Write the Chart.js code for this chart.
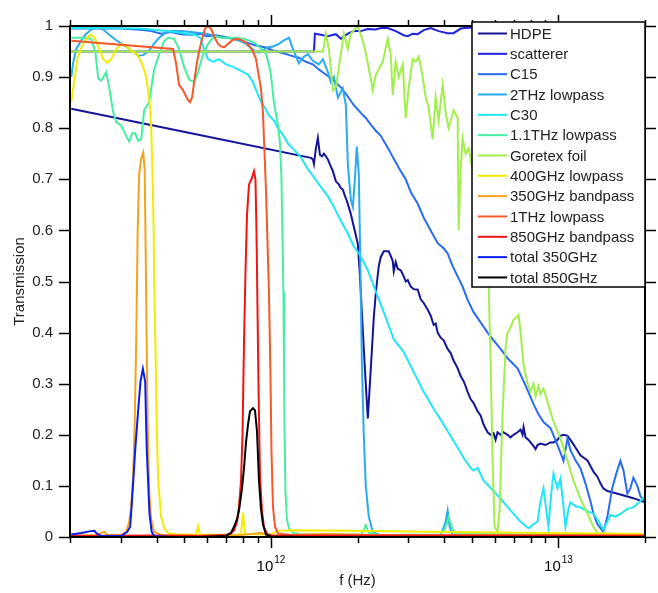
<!DOCTYPE html>
<html>
<head>
<meta charset="utf-8">
<script src="https://cdn.jsdelivr.net/npm/chart.js@4.4.1/dist/chart.umd.min.js"></script>
<style>
  html, body { margin: 0; padding: 0; background: #fff; }
  #wrap { width: 658px; height: 593px; }
</style>
</head>
<body>
<div id="wrap"><canvas id="c" width="658" height="593"></canvas></div>
<script>
// ---------------- DATA (frequency in THz, transmission 0..1) ----------------
const seriesNames = ['HDPE', 'scatterer', 'C15', '2THz lowpass', 'C30', '1.1THz lowpass',
  'Goretex foil', '400GHz lowpass', '350GHz bandpass', '1THz lowpass', '850GHz bandpass',
  'total 350GHz', 'total 850GHz'];

const hdpeF = [0.202, 0.5275, 1.377, 1.399, 1.411, 1.433, 1.456, 1.480, 1.504, 1.528, 1.552, 1.577, 1.616, 1.642, 1.682, 1.722, 1.750, 1.778, 1.807, 1.836, 1.866, 1.896, 1.942, 2.005, 2.037, 2.054, 2.103, 2.137, 2.172, 2.225, 2.279, 2.316, 2.371, 2.410, 2.468, 2.568, 2.610, 2.652, 2.674, 2.716, 2.761, 2.828, 2.896, 2.943, 2.991, 3.064, 3.138, 3.240, 3.318, 3.399, 3.509, 3.594, 3.681, 3.740, 3.801, 3.893, 3.987, 4.117, 4.217, 4.319, 4.389, 4.460, 4.569, 4.680, 4.755, 4.831, 4.948, 5.068, 5.233, 5.360, 5.490, 5.668, 5.806, 5.947, 6.043, 6.140, 6.289, 6.442, 6.651, 6.813, 6.979, 7.205, 7.383, 7.500, 7.562, 7.684, 7.870, 7.997, 8.190, 8.322, 8.456, 8.660, 9.013, 9.380, 9.607, 9.920, 10.16, 10.41, 10.75, 11.01, 11.46, 11.92, 12.61, 13.23, 13.66, 14.00, 14.33, 14.80, 16.42, 18.22, 20.0];
const hdpeT = [0.838, 0.790, 0.742, 0.739, 0.730, 0.760, 0.781, 0.748, 0.745, 0.750, 0.745, 0.739, 0.725, 0.716, 0.696, 0.690, 0.683, 0.680, 0.668, 0.658, 0.645, 0.632, 0.607, 0.574, 0.516, 0.478, 0.370, 0.300, 0.232, 0.330, 0.430, 0.478, 0.530, 0.548, 0.559, 0.559, 0.550, 0.540, 0.520, 0.538, 0.525, 0.522, 0.510, 0.500, 0.503, 0.490, 0.485, 0.484, 0.465, 0.458, 0.445, 0.433, 0.415, 0.418, 0.400, 0.390, 0.385, 0.368, 0.360, 0.345, 0.338, 0.330, 0.315, 0.305, 0.295, 0.284, 0.270, 0.262, 0.246, 0.238, 0.220, 0.205, 0.200, 0.203, 0.190, 0.205, 0.200, 0.205, 0.200, 0.195, 0.200, 0.205, 0.210, 0.200, 0.215, 0.195, 0.190, 0.185, 0.178, 0.172, 0.180, 0.183, 0.180, 0.185, 0.185, 0.190, 0.198, 0.200, 0.198, 0.190, 0.175, 0.160, 0.150, 0.128, 0.118, 0.105, 0.095, 0.090, 0.083, 0.076, 0.068];

const scattererF = [0.202, 1.411, 1.422, 1.491, 1.577, 1.682, 1.750, 1.851, 1.942, 2.054, 2.172, 2.316, 2.410, 2.548, 2.716, 2.896, 2.991, 3.113, 3.240, 3.399, 3.594, 3.831, 4.117, 4.319, 4.569, 4.948, 6.289, 9.380, 14.00, 20.0];
const scattererT = [0.950, 0.950, 0.985, 0.983, 0.980, 0.984, 0.975, 0.985, 0.990, 0.990, 0.994, 0.993, 0.996, 0.996, 0.990, 0.982, 0.980, 0.985, 0.984, 0.992, 0.996, 0.990, 0.986, 0.986, 0.995, 0.997, 0.990, 0.993, 0.990, 0.995];

const c15F = [0.202, 0.301, 0.3594, 0.383, 0.415, 0.449, 0.487, 0.5275, 0.5714, 0.5947, 0.6442, 0.6978, 0.756, 0.8189, 0.8869, 0.9608, 1.016, 1.083, 1.173, 1.251, 1.323, 1.399, 1.468, 1.552, 1.642, 1.750, 1.851, 1.942, 2.054, 2.137, 2.225, 2.316, 2.410, 2.548, 2.674, 2.828, 2.943, 3.064, 3.240, 3.399, 3.594, 3.801, 3.987, 4.117, 4.285, 4.460, 4.642, 4.831, 5.068, 5.360, 5.668, 5.947, 6.289, 6.651, 6.923, 7.205, 7.562, 7.870, 8.190, 8.524, 8.870, 9.380, 9.763, 10.16, 10.41, 10.58, 10.75, 11.01, 11.46, 11.92, 12.41, 12.92, 13.23, 13.66, 14.33, 14.80, 15.40, 15.91, 16.42, 16.84, 17.36, 17.78, 18.22, 18.81, 19.27, 20.0];
const c15T = [0.995, 0.995, 0.992, 0.990, 0.985, 0.988, 0.984, 0.983, 0.985, 0.980, 0.982, 0.978, 0.975, 0.968, 0.962, 0.958, 0.952, 0.948, 0.942, 0.938, 0.930, 0.925, 0.915, 0.905, 0.895, 0.880, 0.862, 0.845, 0.830, 0.820, 0.807, 0.795, 0.785, 0.762, 0.740, 0.716, 0.700, 0.675, 0.652, 0.625, 0.600, 0.575, 0.565, 0.555, 0.530, 0.510, 0.490, 0.464, 0.440, 0.420, 0.400, 0.385, 0.368, 0.350, 0.340, 0.330, 0.305, 0.283, 0.260, 0.240, 0.225, 0.213, 0.190, 0.165, 0.149, 0.170, 0.193, 0.170, 0.150, 0.135, 0.105, 0.070, 0.046, 0.025, 0.010, 0.040, 0.097, 0.125, 0.149, 0.130, 0.085, 0.095, 0.116, 0.100, 0.080, 0.068];

const lp2F = [0.202, 0.2054, 0.2104, 0.219, 0.2279, 0.2371, 0.2508, 0.261, 0.2738, 0.2896, 0.3087, 0.3265, 0.3452, 0.3594, 0.3741, 0.3893, 0.4052, 0.425, 0.4494, 0.487, 0.5361, 0.5947, 0.6704, 0.7381, 0.7868, 0.8189, 0.8522, 0.8869, 0.9085, 0.938, 0.9685, 1.016, 1.066, 1.110, 1.155, 1.192, 1.251, 1.302, 1.344, 1.399, 1.468, 1.516, 1.577, 1.616, 1.655, 1.710, 1.778, 1.822, 1.851, 1.896, 1.927, 1.958, 1.989, 2.021, 2.037, 2.054, 2.070, 2.103, 2.137, 2.189, 2.261, 2.410, 3.893, 4.052, 4.117, 4.184, 4.285, 20.0];
const lp2T = [0.900, 0.930, 0.955, 0.972, 0.985, 0.993, 0.997, 0.993, 0.983, 0.972, 0.962, 0.952, 0.942, 0.943, 0.950, 0.963, 0.975, 0.985, 0.990, 0.990, 0.988, 0.985, 0.978, 0.975, 0.970, 0.965, 0.957, 0.950, 0.948, 0.952, 0.958, 0.960, 0.965, 0.972, 0.977, 0.955, 0.927, 0.940, 0.945, 0.932, 0.925, 0.935, 0.910, 0.890, 0.900, 0.860, 0.878, 0.845, 0.730, 0.660, 0.646, 0.700, 0.764, 0.710, 0.600, 0.470, 0.350, 0.200, 0.100, 0.040, 0.010, 0.003, 0.003, 0.030, 0.052, 0.020, 0.003, 0.002];

const c30F = [0.202, 0.2569, 0.348, 0.3831, 0.4319, 0.487, 0.5491, 0.5714, 0.5853, 0.6044, 0.629, 0.6598, 0.6978, 0.7381, 0.7868, 0.8321, 0.866, 0.8941, 0.9232, 0.9532, 0.9841, 1.024, 1.058, 1.101, 1.146, 1.202, 1.271, 1.344, 1.411, 1.491, 1.577, 1.655, 1.750, 1.851, 1.942, 2.054, 2.172, 2.279, 2.353, 2.468, 2.674, 2.896, 3.138, 3.399, 3.681, 3.987, 4.319, 4.680, 4.948, 5.068, 5.233, 5.490, 5.947, 6.289, 6.813, 7.383, 7.870, 8.190, 8.456, 8.660, 8.870, 9.085, 9.231, 9.420, 9.607, 9.920, 10.16, 10.41, 10.58, 10.84, 11.01, 11.46, 11.92, 12.61, 13.23, 14.00, 14.33, 14.80, 15.16, 15.78, 16.42, 17.36, 18.22, 19.27, 20.0];
const c30T = [0.996, 0.996, 0.995, 0.993, 0.990, 0.987, 0.982, 0.975, 0.955, 0.935, 0.930, 0.935, 0.925, 0.920, 0.912, 0.905, 0.890, 0.870, 0.852, 0.840, 0.825, 0.815, 0.800, 0.787, 0.770, 0.758, 0.743, 0.720, 0.704, 0.685, 0.667, 0.646, 0.619, 0.594, 0.569, 0.549, 0.522, 0.491, 0.470, 0.440, 0.387, 0.362, 0.323, 0.284, 0.251, 0.220, 0.188, 0.155, 0.135, 0.130, 0.135, 0.110, 0.090, 0.075, 0.052, 0.030, 0.017, 0.025, 0.030, 0.070, 0.095, 0.050, 0.020, 0.080, 0.124, 0.095, 0.114, 0.060, 0.020, 0.055, 0.068, 0.060, 0.058, 0.050, 0.046, 0.025, 0.014, 0.030, 0.043, 0.040, 0.045, 0.055, 0.058, 0.070, 0.080];

const lp11F = [0.202, 0.219, 0.2371, 0.2448, 0.2508, 0.2569, 0.2674, 0.2738, 0.2828, 0.2896, 0.3014, 0.3137, 0.3213, 0.3291, 0.3371, 0.3452, 0.3536, 0.3622, 0.3771, 0.3924, 0.4085, 0.425, 0.4388, 0.4603, 0.4791, 0.4988, 0.5192, 0.5404, 0.558, 0.5807, 0.6044, 0.634, 0.6704, 0.744, 0.8059, 0.873, 0.9232, 0.9608, 0.9841, 1.0, 1.024, 1.058, 1.075, 1.088, 1.096, 1.105, 1.110, 1.114, 1.123, 1.136, 1.155, 1.192, 1.271, 2.054, 2.103, 2.137, 2.189, 2.410, 3.893, 4.019, 4.150, 4.251, 4.389, 20.0];
const lp11T = [0.977, 0.977, 0.975, 0.950, 0.897, 0.893, 0.910, 0.880, 0.830, 0.812, 0.805, 0.785, 0.774, 0.790, 0.790, 0.775, 0.778, 0.835, 0.851, 0.915, 0.945, 0.970, 0.977, 0.975, 0.955, 0.920, 0.895, 0.890, 0.910, 0.945, 0.965, 0.980, 0.977, 0.977, 0.975, 0.968, 0.956, 0.945, 0.925, 0.905, 0.850, 0.806, 0.770, 0.700, 0.600, 0.480, 0.350, 0.220, 0.090, 0.035, 0.017, 0.008, 0.005, 0.005, 0.012, 0.023, 0.008, 0.004, 0.005, 0.015, 0.039, 0.020, 0.006, 0.004];

const goreF = [0.202, 1.468, 1.516, 1.552, 1.590, 1.642, 1.682, 1.750, 1.793, 1.851, 1.896, 2.005, 2.103, 2.172, 2.261, 2.316, 2.371, 2.448, 2.548, 2.610, 2.652, 2.716, 2.783, 2.873, 2.943, 3.015, 3.113, 3.189, 3.266, 3.372, 3.453, 3.537, 3.652, 3.740, 3.831, 3.956, 4.052, 4.150, 4.319, 4.460, 4.496, 4.569, 4.642, 4.755, 4.870, 5.028, 5.275, 5.534, 5.714, 5.806, 5.899, 5.995, 6.140, 6.239, 6.390, 6.546, 6.651, 6.813, 6.979, 7.148, 7.263, 7.383, 7.562, 7.807, 7.997, 8.190, 8.322, 8.524, 8.660, 8.870, 9.158, 9.607, 10.16, 10.75, 11.27, 11.92, 12.61, 13.23, 13.66, 20.0];
const goreT = [0.950, 0.950, 0.950, 0.985, 0.955, 0.874, 0.880, 0.945, 0.985, 0.955, 0.985, 1.000, 0.965, 0.927, 0.874, 0.905, 0.915, 0.930, 0.975, 0.945, 0.865, 0.930, 0.900, 0.925, 0.820, 0.880, 0.935, 0.930, 0.940, 0.900, 0.860, 0.840, 0.778, 0.860, 0.815, 0.885, 0.830, 0.800, 0.835, 0.820, 0.600, 0.720, 0.780, 0.750, 0.760, 0.720, 0.650, 0.550, 0.497, 0.350, 0.150, 0.020, 0.010, 0.050, 0.240, 0.370, 0.400, 0.410, 0.425, 0.430, 0.435, 0.400, 0.337, 0.300, 0.284, 0.300, 0.275, 0.295, 0.280, 0.290, 0.265, 0.226, 0.193, 0.150, 0.110, 0.075, 0.046, 0.020, 0.008, 0.003];

const lp400F = [0.202, 0.2054, 0.212, 0.219, 0.2279, 0.2352, 0.2429, 0.2508, 0.261, 0.2695, 0.2783, 0.2896, 0.3014, 0.3137, 0.3265, 0.3452, 0.3594, 0.3681, 0.3741, 0.3801, 0.3831, 0.3878, 0.3909, 0.3924, 0.3972, 0.4004, 0.4052, 0.415, 0.425, 0.4388, 0.4677, 0.5491, 0.558, 0.5669, 0.756, 0.7868, 0.7995, 0.8124, 1.0, 1.049, 1.173, 1.896, 4.217, 9.380, 20.0];
const lp400T = [0.851, 0.880, 0.935, 0.958, 0.975, 0.983, 0.978, 0.960, 0.935, 0.928, 0.935, 0.955, 0.965, 0.960, 0.952, 0.942, 0.920, 0.900, 0.870, 0.840, 0.800, 0.700, 0.600, 0.500, 0.350, 0.220, 0.110, 0.039, 0.018, 0.008, 0.005, 0.005, 0.022, 0.005, 0.004, 0.006, 0.048, 0.006, 0.005, 0.012, 0.013, 0.012, 0.010, 0.008, 0.006];

const bp350F = [0.202, 0.2468, 0.2569, 0.2631, 0.2695, 0.3014, 0.3137, 0.3213, 0.3265, 0.3317, 0.3357, 0.3398, 0.3439, 0.348, 0.3536, 0.3594, 0.3637, 0.3666, 0.3696, 0.3726, 0.3771, 0.3831, 0.3924, 0.415, 0.5714, 0.7868, 0.9232, 1.0, 1.491, 2.828, 20.0];
const bp350T = [0.003, 0.004, 0.008, 0.010, 0.004, 0.004, 0.010, 0.030, 0.060, 0.120, 0.220, 0.380, 0.600, 0.710, 0.740, 0.752, 0.720, 0.560, 0.380, 0.220, 0.090, 0.035, 0.010, 0.004, 0.003, 0.004, 0.008, 0.003, 0.006, 0.003, 0.003];

const lp1F = [0.202, 0.4566, 0.4677, 0.4791, 0.4948, 0.5069, 0.5151, 0.5234, 0.5318, 0.5404, 0.5535, 0.5623, 0.576, 0.5901, 0.6044, 0.619, 0.634, 0.6546, 0.6704, 0.6867, 0.7091, 0.7381, 0.7681, 0.8059, 0.8387, 0.866, 0.8869, 0.9085, 0.9232, 0.938, 0.9456, 0.9608, 0.9724, 0.9841, 0.996, 1.004, 1.016, 1.033, 1.058, 1.173, 20.0];
const lp1T = [0.971, 0.955, 0.927, 0.885, 0.874, 0.862, 0.855, 0.851, 0.860, 0.890, 0.930, 0.950, 0.975, 0.995, 1.000, 0.995, 0.980, 0.965, 0.960, 0.958, 0.965, 0.973, 0.975, 0.970, 0.962, 0.950, 0.936, 0.900, 0.878, 0.830, 0.780, 0.680, 0.580, 0.480, 0.320, 0.170, 0.060, 0.020, 0.007, 0.004, 0.003];

const bp850F = [0.202, 0.3831, 0.5714, 0.6978, 0.7264, 0.744, 0.762, 0.7743, 0.7868, 0.7963, 0.8059, 0.8156, 0.8254, 0.8387, 0.8556, 0.873, 0.8834, 0.8905, 0.8977, 0.9048, 0.9158, 0.9306, 0.9456, 0.9685, 1.0, 20.0];
const bp850T = [0.002, 0.003, 0.002, 0.004, 0.007, 0.013, 0.030, 0.060, 0.110, 0.200, 0.380, 0.520, 0.630, 0.690, 0.700, 0.716, 0.700, 0.600, 0.450, 0.300, 0.120, 0.050, 0.020, 0.006, 0.003, 0.002];

const tot350F = [0.202, 0.219, 0.2334, 0.2429, 0.2488, 0.2569, 0.3014, 0.3162, 0.3239, 0.3309, 0.3371, 0.3444, 0.3517, 0.3585, 0.3652, 0.3696, 0.3780, 0.3847, 0.3924, 0.4494, 1.271];
const tot350T = [0.005, 0.008, 0.011, 0.012, 0.006, 0.002, 0.002, 0.010, 0.020, 0.097, 0.170, 0.240, 0.304, 0.329, 0.304, 0.174, 0.046, 0.010, 0.002, 0.000, 0.000];

const tot850F = [0.5714, 0.6978, 0.7264, 0.744, 0.762, 0.7743, 0.7931, 0.8059, 0.8189, 0.8321, 0.8454, 0.866, 0.8799, 0.8941, 0.9012, 0.9085, 0.9232, 0.938, 0.9608, 1.0, 1.271];
const tot850T = [0.000, 0.002, 0.008, 0.020, 0.035, 0.052, 0.095, 0.135, 0.185, 0.220, 0.246, 0.252, 0.248, 0.207, 0.160, 0.110, 0.055, 0.025, 0.005, 0.001, 0.000];

// axis ticks / labels
const yTickValues = [0, 0.1, 0.2, 0.3, 0.4, 0.5, 0.6, 0.7, 0.8, 0.9, 1];
const yTickLabels = ['0', '0.1', '0.2', '0.3', '0.4', '0.5', '0.6', '0.7', '0.8', '0.9', '1'];
const xMajorValues = [1e12, 1e13];
const xMajorBase = ['10', '10'];
const xMajorExp = ['12', '13'];
const xMinorMultipliers = [2, 3, 4, 5, 6, 7, 8, 9];
const xDecades = [1e11, 1e12, 1e13];

// ---------------- STYLE ----------------
const FONT = '"Liberation Sans", Arial, Helvetica, sans-serif';
const colors = ['#14149b', '#1f23dc', '#2a6cf0', '#2aaaf0', '#20e6f5', '#48eea0',
  '#a2ef4c', '#f2ec00', '#f5a31a', '#f5592a', '#f01414', '#0a1ef0', '#000000'];
const fArrays = [hdpeF, scattererF, c15F, lp2F, c30F, lp11F, goreF, lp400F, bp350F, lp1F, bp850F, tot350F, tot850F];
const tArrays = [hdpeT, scattererT, c15T, lp2T, c30T, lp11T, goreT, lp400T, bp350T, lp1T, bp850T, tot350T, tot850T];

const datasets = seriesNames.map((name, i) => ({
  label: name,
  data: fArrays[i].map((f, j) => ({ x: f * 1e12, y: tArrays[i][j] })),
  borderColor: colors[i],
  backgroundColor: colors[i],
  borderWidth: 2,
  pointRadius: 0,
  showLine: true,
  tension: 0,
  fill: false,
  order: seriesNames.length - i
}));

function seg(ctx, x1, y1, x2, y2) {
  ctx.beginPath(); ctx.moveTo(x1, y1); ctx.lineTo(x2, y2); ctx.stroke();
}

const framePlugin = {
  id: 'frame',
  afterDraw(chart) {
    const { ctx, chartArea: a, scales: { x, y } } = chart;
    ctx.save();
    ctx.strokeStyle = '#000';
    ctx.lineWidth = 2;
    ctx.lineCap = 'square';
    ctx.strokeRect(a.left, a.top, a.right - a.left, a.bottom - a.top);
    ctx.lineCap = 'butt';
    ctx.lineWidth = 1.5;
    // x ticks: bottom and top, outward
    xDecades.forEach(d => {
      [1].concat(xMinorMultipliers).forEach(m => {
        const v = m * d;
        if (v < x.min || v > x.max) return;
        const px = Math.round(x.getPixelForValue(v)) + 0.5;
        const L = m === 1 ? 11 : 6;
        seg(ctx, px, a.bottom, px, a.bottom + L);
        seg(ctx, px, a.top, px, a.top - L);
      });
    });
    // y ticks: left and right, outward
    yTickValues.forEach(v => {
      const py = Math.round(y.getPixelForValue(v)) + 0.5;
      seg(ctx, a.left - 11, py, a.left, py);
      seg(ctx, a.right, py, a.right + 11, py);
    });
    // x major labels 10^n
    ctx.fillStyle = '#000';
    ctx.textBaseline = 'alphabetic';
    ctx.textAlign = 'left';
    xMajorValues.forEach((v, i) => {
      const px = x.getPixelForValue(v);
      ctx.font = '15px ' + FONT;
      const wb = ctx.measureText(xMajorBase[i]).width;
      ctx.font = '10px ' + FONT;
      const we = ctx.measureText(xMajorExp[i]).width;
      const x0 = px - (wb + we + 1) / 2;
      ctx.font = '15px ' + FONT;
      ctx.fillText(xMajorBase[i], x0, 571);
      ctx.font = '10px ' + FONT;
      ctx.fillText(xMajorExp[i], x0 + wb + 1, 563);
    });
    // legend box
    const lx = 472, ly = 22, lw = 173, lh = 265;
    ctx.fillStyle = '#fff';
    ctx.fillRect(lx, ly, lw, lh);
    ctx.strokeStyle = '#000';
    ctx.lineWidth = 1.5;
    ctx.strokeRect(lx, ly, lw, lh);
    ctx.font = '15px ' + FONT;
    ctx.textBaseline = 'middle';
    ctx.textAlign = 'left';
    seriesNames.forEach((name, i) => {
      const cy = 33.5 + i * 20.33;
      ctx.strokeStyle = colors[i];
      ctx.lineWidth = 2;
      seg(ctx, 478, cy, 507, cy);
      ctx.fillStyle = '#222';
      ctx.fillText(name, 510, cy + 1);
    });
    ctx.restore();
  }
};

new Chart(document.getElementById('c'), {
  type: 'scatter',
  data: { datasets },
  options: {
    responsive: false,
    animation: false,
    events: [],
    layout: { padding: { left: 0, right: 13, top: 20, bottom: 0 } },
    plugins: { legend: { display: false }, tooltip: { enabled: false } },
    scales: {
      x: {
        type: 'logarithmic',
        min: 2e11,
        max: 2e13,
        grid: { display: false, drawTicks: false },
        border: { display: false },
        ticks: { display: false },
        afterFit: s => { s.height = 56; },
        title: { display: true, text: 'f (Hz)', color: '#222', font: { family: FONT, size: 15 }, padding: { top: 0, bottom: 3 } }
      },
      y: {
        type: 'linear',
        min: 0,
        max: 1,
        grid: { display: false, drawTicks: false },
        border: { display: false },
        afterBuildTicks: s => { s.ticks = yTickValues.map(v => ({ value: v })); },
        ticks: {
          color: '#222',
          font: { family: FONT, size: 15 },
          padding: 17,
          callback: (v) => yTickLabels[yTickValues.indexOf(v)]
        },
        afterFit: s => { s.width = 70; },
        title: { display: true, text: 'Transmission', color: '#222', font: { family: FONT, size: 15 }, padding: { top: 11, bottom: 0 } }
      }
    }
  },
  plugins: [framePlugin]
});
</script>
</body>
</html>
